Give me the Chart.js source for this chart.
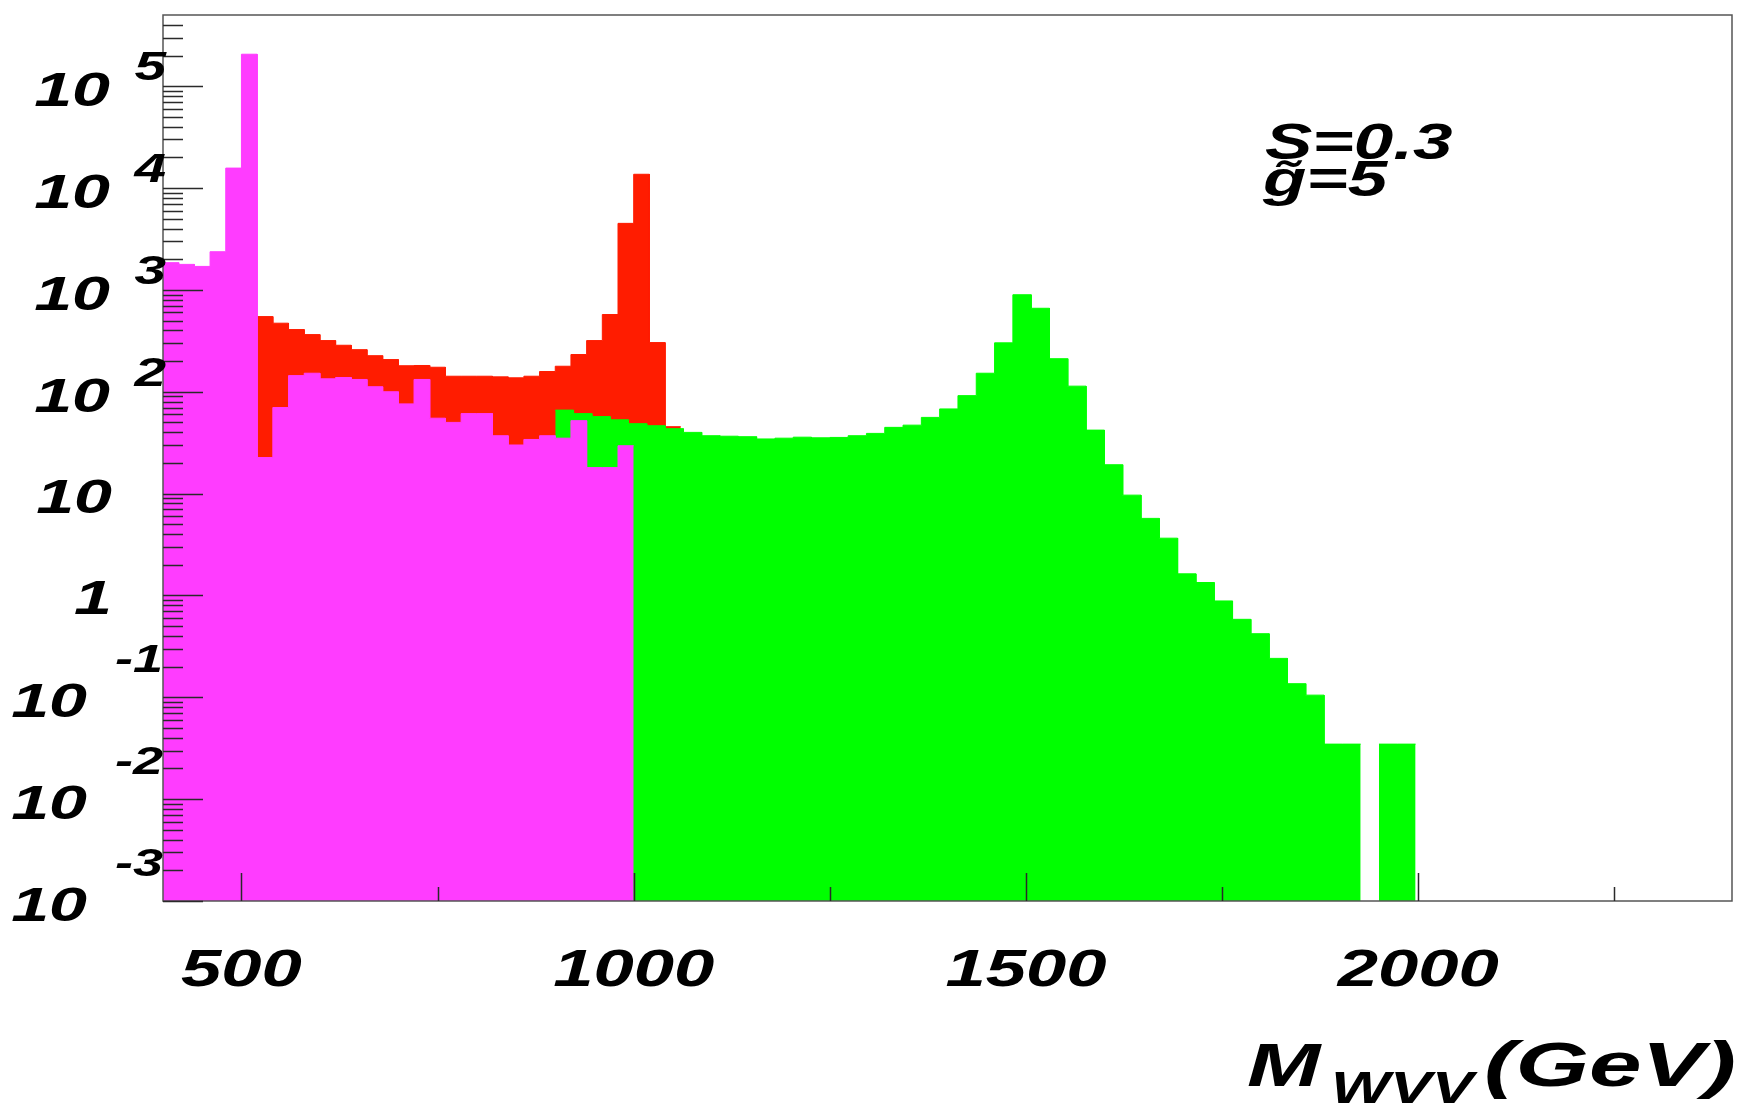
<!DOCTYPE html>
<html>
<head>
<meta charset="utf-8">
<script src="https://cdn.jsdelivr.net/npm/chart.js"></script>
<style>
  body { margin: 0; background: #fff; }
  canvas { display: block; }
</style>
</head>
<body>
<canvas id="myChart" width="1742" height="1107"></canvas>
<script>
// x range (GeV) and log y range
const xMin = 400;
const xMax = 2400;
const yMin = 1e-3;
const yMax = 5e5;

const xTickValues = [500, 1000, 1500, 2000];
const xTickLabels = ["500", "1000", "1500", "2000"];
const xMinorTicks = [750, 1250, 1750, 2250];
const yDecades = [-3, -2, -1, 0, 1, 2, 3, 4, 5];

const textLines = ["S=0.3", "g\u0303=5"];
const axisTitle = ["M", "WVV", "(GeV)"];

// magenta histogram (peak at 500)
const magentaStart = 400;
const magentaWidth = 20;
const magentaCounts = [1850, 1780, 1700, 2370, 15700, 206000, 22.6, 70, 144, 152,
    134, 138, 132, 112, 100, 76, 132, 55, 50, 61,
    61, 37, 30, 34, 37, 35, 52, 18, 18, 29.5];

// red histogram (peak at 1000)
const redStart = 520;
const redWidth = 20;
const redCounts = [547, 471, 408, 364, 318, 286, 259, 226, 207, 180,
    181, 174, 142, 142, 142, 140, 137, 142, 158, 178,
    232, 318, 573, 4500, 13650, 304, 45.4];

// green histogram (peak at 1500)
const greenStart = 900;
const greenWidth = 70 / 3;
const greenCounts = [66, 61, 57, 53, 48.6, 46.4, 43.4, 39.9, 37, 36.6,
    36.2, 34.4, 35, 35.8, 35.3, 35.6, 37, 39, 44.7, 47,
    56, 67.8, 91.6, 152, 302, 896, 660, 211, 113.5, 42,
    19.2, 9.66, 5.71, 3.65, 1.63, 1.34, 0.883, 0.583, 0.421, 0.241,
    0.136, 0.105, 0.0347, 0.0347, 0, 0.0347, 0.0347];

// two points per bin so the line draws the bin top as a flat step
function histPoints(start, width, counts) {
    const pts = [];
    counts.forEach((c, i) => {
        const lo = start + i * width;
        pts.push({ x: lo, y: c }, { x: lo + width, y: c });
    });
    return pts;
}

function histDataset(label, color, start, width, counts) {
    return {
        label: label,
        data: histPoints(start, width, counts),
        backgroundColor: color,
        borderColor: color,
        borderWidth: 1,
        pointRadius: 0,
        tension: 0,
        fill: "start",
    };
}

const SX = 1.42; // the original lettering is stretched sideways

function stretchText(ctx, text, x, y, size, align, sx) {
    ctx.save();
    ctx.font = "italic bold " + size + 'px "Liberation Sans", Arial, sans-serif';
    ctx.textAlign = align;
    ctx.textBaseline = "alphabetic";
    ctx.fillStyle = "#000";
    ctx.translate(x, y);
    ctx.scale(sx || SX, 1);
    ctx.fillText(text, 0, 0);
    ctx.restore();
}

const rootFrame = {
    id: "rootFrame",
    afterDatasetsDraw(chart) {
        const { ctx, chartArea: a, scales } = chart;
        const x = scales.x;
        const y = scales.y;
        ctx.save();

        ctx.strokeStyle = "#555";
        ctx.lineWidth = 1.5;
        ctx.strokeRect(a.left, a.top, a.right - a.left, a.bottom - a.top);

        // ticks pointing inwards
        ctx.strokeStyle = "#2a2a2a";
        ctx.lineWidth = 1.5;
        ctx.beginPath();
        yDecades.forEach((e) => {
            for (let m = 1; m <= 9; m++) {
                const v = m * Math.pow(10, e);
                if (v >= yMax) break;
                const py = Math.round(y.getPixelForValue(v)) + 0.5;
                ctx.moveTo(a.left, py);
                ctx.lineTo(a.left + (m === 1 ? 40 : 20), py);
            }
        });
        xTickValues.forEach((v) => {
            const px = Math.round(x.getPixelForValue(v)) + 0.5;
            ctx.moveTo(px, a.bottom);
            ctx.lineTo(px, a.bottom - 28);
        });
        xMinorTicks.forEach((v) => {
            const px = Math.round(x.getPixelForValue(v)) + 0.5;
            ctx.moveTo(px, a.bottom);
            ctx.lineTo(px, a.bottom - 14);
        });
        ctx.stroke();

        // y labels 10^n
        yDecades.forEach((e) => {
            const py = y.getPixelForValue(Math.pow(10, e));
            if (e === 0) {
                stretchText(ctx, "1", 112, py + 19, 48, "right");
            } else if (e === 1) {
                stretchText(ctx, "10", 112, py + 19, 48, "right");
            } else if (e > 1) {
                stretchText(ctx, "10", 110, py + 20, 48, "right");
                stretchText(ctx, String(e), 166, py - 6, 40, "right");
            } else {
                stretchText(ctx, "10", 87, py + 20, 48, "right");
                stretchText(ctx, "-" + (-e), 163, py - 25, 38, "right");
            }
        });

        // x labels
        xTickValues.forEach((v, i) => {
            stretchText(ctx, xTickLabels[i], x.getPixelForValue(v), 986, 51, "center");
        });

        // axis title
        stretchText(ctx, axisTitle[0], 1247, 1086, 62, "left");
        stretchText(ctx, axisTitle[1], 1331, 1103, 44, "left");
        stretchText(ctx, axisTitle[2], 1484, 1086, 63, "left", 1.5);

        // parameters
        stretchText(ctx, textLines[0], 1265, 159, 50, "left");
        stretchText(ctx, textLines[1], 1263, 196, 50, "left");

        ctx.restore();
    },
};

const data = {
    datasets: [
        histDataset("M = 500", "#ff3cff", magentaStart, magentaWidth, magentaCounts),
        histDataset("M = 1500", "#00ff00", greenStart, greenWidth, greenCounts),
        histDataset("M = 1000", "#ff1c00", redStart, redWidth, redCounts),
    ],
};

const config = {
    type: "line",
    data: data,
    options: {
        responsive: false,
        animation: false,
        devicePixelRatio: 1,
        layout: { padding: { left: 163, right: 10, top: 15, bottom: 206 } },
        plugins: { legend: { display: false }, tooltip: { enabled: false } },
        scales: {
            x: { type: "linear", min: xMin, max: xMax, display: false },
            y: { type: "logarithmic", min: yMin, max: yMax, display: false },
        },
    },
    plugins: [rootFrame],
};

const myChart = new Chart(document.getElementById("myChart"), config);
</script>
</body>
</html>
